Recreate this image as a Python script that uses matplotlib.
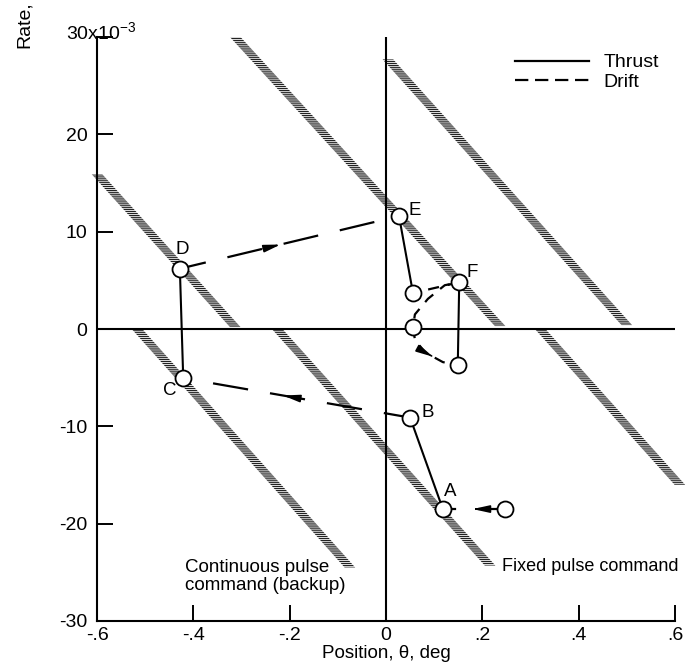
import numpy as np
import matplotlib.pyplot as plt
from matplotlib.lines import Line2D

plt.rcParams['font.family'] = ['Liberation Sans', 'DejaVu Sans']
plt.rcParams['mathtext.fontset'] = 'custom'
plt.rcParams['mathtext.rm'] = 'Liberation Sans'
plt.rcParams['hatch.linewidth'] = 0.9

## Data (position in deg, rate in 1e-3)

# Switching lines, drawn as hatched bands (start and end of each band)
band_x0 = [-0.600, -0.517, -0.313, -0.226, 0.004, 0.320]
band_y0 = [15.9, 0.0, 30.0, 0.0, 27.7, 0.0]
band_x1 = [-0.313, -0.075, 0.237, 0.216, 0.500, 0.610]
band_y1 = [0.2, -24.5, 0.3, -24.3, 0.4, -16.0]

# Trajectory points (circles)
pt_name = ['', 'A', 'B', 'C', 'D', 'E', '', 'F', '', '']
pt_x = [0.247, 0.118, 0.050, -0.421, -0.428, 0.027, 0.056, 0.152, 0.149, 0.056]
pt_y = [-18.5, -18.5, -9.1, -5.05, 6.2, 11.6, 3.7, 4.8, -3.7, 0.2]

# Which points are joined by thrust (solid) and drift (dashed) legs
thrust_legs = [(1, 2), (3, 4), (5, 6), (7, 8)]
drift_legs = [(0, 1), (2, 3), (4, 5)]
small_drift_legs = [(6, 7)]

# Limit cycle drift curve, bottom point -> vertex -> F
loop_x = [0.149, 0.118, 0.081, 0.060, 0.056, 0.060, 0.087, 0.122, 0.152]
loop_y = [-3.7, -3.4, -2.4, -1.1, 0.2, 1.5, 3.1, 4.5, 4.8]

x_ticks = [-0.6, -0.4, -0.2, 0.0, 0.2, 0.4, 0.6]
x_labels = ['-.6', '-.4', '-.2', '0', '.2', '.4', '.6']
y_ticks = [-30, -20, -10, 0, 10, 20, 30]
y_labels = ['-30', '-20', '-10', '0', '10', '20', '']

# label offsets in points from the circle
label_offsets = {'A': (5, 13), 'B': (13, 4), 'C': (-10, -9),
                 'D': (2, 14), 'E': (11, 4), 'F': (9, 7)}

## Figure

fig = plt.figure(figsize=(6.89, 6.72), dpi=100)
ax = fig.add_axes([0.1408, 0.0759, 0.8389, 0.869])
ax.set_xlim(-0.6, 0.6)
ax.set_ylim(-30, 30)

for s in ['top', 'right']:
    ax.spines[s].set_visible(False)
for s in ['left', 'bottom']:
    ax.spines[s].set_linewidth(1.5)

ax.axhline(0, color='k', lw=1.5, zorder=2)
ax.axvline(0, color='k', lw=1.5, zorder=2)

# hatched bands
hw = 0.011
for x0, y0, x1, y1 in zip(band_x0, band_y0, band_x1, band_y1):
    ax.fill_betweenx([y0, y1], [x0 - hw, x1 - hw], [x0 + hw, x1 + hw],
                     facecolor='none', edgecolor='#222222', linewidth=0,
                     hatch='--------', clip_on=False, zorder=1)

# thrust legs
for i, j in thrust_legs:
    ax.plot([pt_x[i], pt_x[j]], [pt_y[i], pt_y[j]], color='k', lw=1.5, zorder=3)

# drift legs
for i, j in drift_legs:
    ax.plot([pt_x[i], pt_x[j]], [pt_y[i], pt_y[j]], color='k', lw=1.6,
            linestyle=(4, (16, 10)), zorder=3)
for i, j in small_drift_legs:
    ax.plot([pt_x[i], pt_x[j]], [pt_y[i], pt_y[j]], color='k', lw=1.6,
            linestyle=(2, (5, 4)), zorder=3)
ax.plot(loop_x, loop_y, color='k', lw=1.6, linestyle=(3, (5, 4)), zorder=3)


def arrow_on(xa, ya, xb, yb, frac):
    # arrowhead pointing from a to b, tip at frac along the segment
    tx, ty = xa + frac * (xb - xa), ya + frac * (yb - ya)
    bx, by = xa + (frac - 0.08) * (xb - xa), ya + (frac - 0.08) * (yb - ya)
    ax.annotate('', xy=(tx, ty), xytext=(bx, by),
                arrowprops=dict(arrowstyle='-|>,head_length=1.0,head_width=0.22',
                                color='k', lw=1.2, shrinkA=0, shrinkB=0),
                zorder=4)


arrow_on(pt_x[0], pt_y[0], pt_x[1], pt_y[1], 0.52)
arrow_on(pt_x[2], pt_y[2], pt_x[3], pt_y[3], 0.56)
arrow_on(pt_x[4], pt_y[4], pt_x[5], pt_y[5], 0.46)
arrow_on(loop_x[2], loop_y[2], loop_x[1], loop_y[1], 0.45)

# circles
ax.plot(pt_x, pt_y, 'o', ms=11.5, mfc='white', mec='k', mew=1.3,
        linestyle='none', zorder=5)
for name, x, y in zip(pt_name, pt_x, pt_y):
    if name:
        ax.annotate(name, (x, y), xytext=label_offsets[name],
                    textcoords='offset points', ha='center', va='center',
                    fontsize=13.5, zorder=6)

# notes
ax.text(-0.417, -23.6, 'Continuous pulse\ncommand (backup)', ha='left',
        va='top', fontsize=13.5, linespacing=1.1)
ax.text(0.241, -24.4, 'Fixed pulse command', ha='left', va='center',
        fontsize=13)

# ticks
ax.set_xticks(x_ticks)
ax.set_xticklabels(x_labels)
ax.set_yticks(y_ticks)
ax.set_yticklabels(y_labels)
ax.tick_params(direction='in', length=11.5, width=1.4, labelsize=14)
ax.tick_params(axis='y', pad=7)
ax.tick_params(axis='x', pad=4)
ax.text(-0.053, 1.007, r'30x10$^{-3}$', transform=ax.transAxes, ha='left',
        va='center', fontsize=14)

ax.set_xlabel('Position, θ, deg', fontsize=13.5, labelpad=1)
fig.text(0.035, 0.963, 'Rate,', rotation=90, ha='center', va='center',
         fontsize=14)

# legend
handles = [Line2D([], [], color='k', lw=1.6),
           Line2D([], [], color='k', lw=1.6, linestyle=(0, (6, 3)))]
ax.legend(handles, ['Thrust', 'Drift'], loc='upper left',
          bbox_to_anchor=(0.7475, 0.92), bbox_transform=fig.transFigure,
          frameon=False, fontsize=14, handlelength=3.8, handletextpad=0.75,
          labelspacing=0.1, borderpad=0, borderaxespad=0)

fig.savefig('out.png', dpi=100)
